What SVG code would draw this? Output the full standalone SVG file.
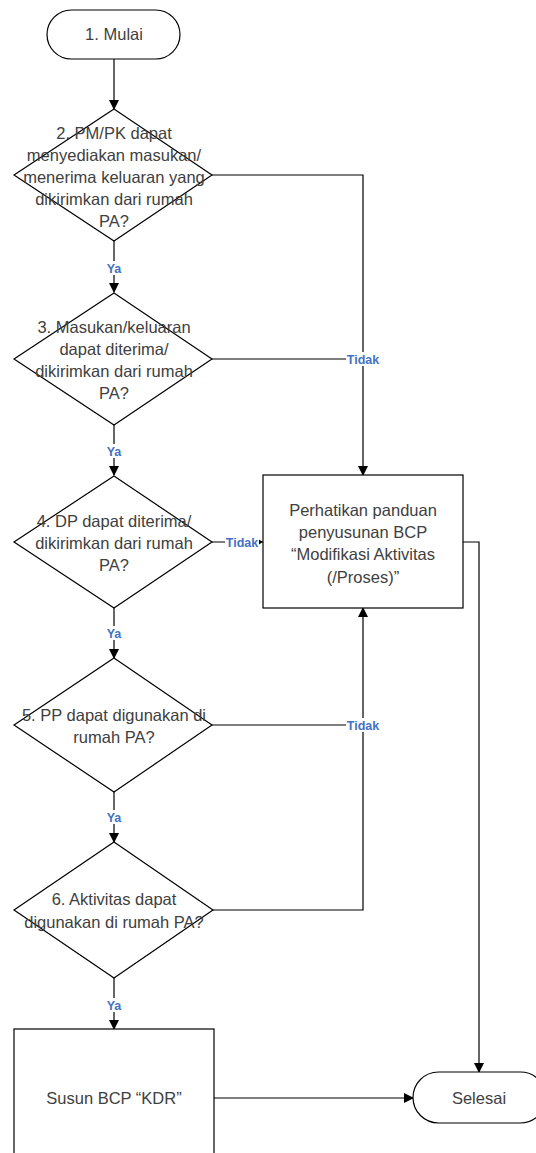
<svg xmlns="http://www.w3.org/2000/svg" width="536" height="1153" viewBox="0 0 536 1153">
<style>
.s{fill:#fff;stroke:#000;stroke-width:1.2}
.t{font-family:"Liberation Sans",Arial,sans-serif;font-size:16.5px;fill:#404040;text-anchor:middle}
.l{font-family:"Liberation Sans",Arial,sans-serif;font-size:12.5px;font-weight:bold;fill:#4472C4;text-anchor:middle}
.c{fill:none;stroke:#000;stroke-width:1.2}
</style>
<defs>
<marker id="a" markerWidth="10" markerHeight="10" refX="9" refY="5" orient="auto" markerUnits="userSpaceOnUse"><path d="M0,0 L10,5 L0,10 Z" fill="#000"/></marker>
<marker id="b" markerWidth="6" markerHeight="6" refX="5" refY="3" orient="auto" markerUnits="userSpaceOnUse"><path d="M0,0 L5,3 L0,6 Z" fill="#000"/></marker>
</defs>
<g id="connectors">
<path class="c" d="M114,59 V109" marker-end="url(#a)"/>
<path class="c" d="M114,241 V292" marker-end="url(#a)"/>
<path class="c" d="M114,425 V475" marker-end="url(#a)"/>
<path class="c" d="M114,608 V658" marker-end="url(#a)"/>
<path class="c" d="M114,792 V842" marker-end="url(#a)"/>
<path class="c" d="M114,978 V1029" marker-end="url(#a)"/>
<path class="c" d="M212,175 H363 V475" marker-end="url(#a)"/>
<path class="c" d="M212,359 H363"/>
<path class="c" d="M212,542 H263" marker-end="url(#b)"/>
<path class="c" d="M212,725 H363"/>
<path class="c" d="M213,910 H363 V608" marker-end="url(#a)"/>
<path class="c" d="M463,542 H479 V1072" marker-end="url(#a)"/>
<path class="c" d="M214,1098 H413" marker-end="url(#a)"/>
<g>
<rect x="103" y="261" width="22" height="14" fill="#fff"/><text class="l" x="114" y="273">Ya</text>
<rect x="103" y="444" width="22" height="14" fill="#fff"/><text class="l" x="114" y="456">Ya</text>
<rect x="103" y="626" width="22" height="14" fill="#fff"/><text class="l" x="114" y="638">Ya</text>
<rect x="103" y="810" width="22" height="14" fill="#fff"/><text class="l" x="114" y="822">Ya</text>
<rect x="103" y="998" width="22" height="14" fill="#fff"/><text class="l" x="114" y="1010">Ya</text>
<rect x="346" y="352" width="34" height="14" fill="#fff"/><text class="l" x="363" y="364">Tidak</text>
<rect x="225" y="535" width="34" height="14" fill="#fff"/><text class="l" x="242" y="547">Tidak</text>
<rect x="346" y="718" width="34" height="14" fill="#fff"/><text class="l" x="363" y="730">Tidak</text>
</g>
</g>
<g id="n1"><rect class="s" x="47" y="10" width="133" height="49" rx="24.5"/><text class="t" x="114" y="40">1. Mulai</text></g>
<g id="n2"><path class="s" d="M114,109 L212,175 L114,241 L14,175 Z"/>
<text class="t" x="114" y="139">2. PM/PK dapat</text><text class="t" x="114" y="161">menyediakan masukan/</text><text class="t" x="114" y="183">menerima keluaran yang</text><text class="t" x="114" y="205">dikirimkan dari rumah</text><text class="t" x="114" y="227">PA?</text></g>
<g id="n3"><path class="s" d="M114,293 L212,359 L114,425 L14,359 Z"/>
<text class="t" x="114" y="333">3. Masukan/keluaran</text><text class="t" x="114" y="355">dapat diterima/</text><text class="t" x="114" y="377">dikirimkan dari rumah</text><text class="t" x="114" y="399">PA?</text></g>
<g id="n4"><path class="s" d="M114,476 L212,542 L114,608 L14,542 Z"/>
<text class="t" x="114" y="527">4. DP dapat diterima/</text><text class="t" x="114" y="549">dikirimkan dari rumah</text><text class="t" x="114" y="571">PA?</text></g>
<g id="n5"><path class="s" d="M114,658 L212,725 L114,792 L14,725 Z"/>
<text class="t" x="114" y="721">5. PP dapat digunakan di</text><text class="t" x="114" y="743">rumah PA?</text></g>
<g id="n6"><path class="s" d="M114,842 L213,910 L114,978 L14,910 Z"/>
<text class="t" x="114" y="905">6. Aktivitas dapat</text><text class="t" x="114" y="928">digunakan di rumah PA?</text></g>
<g id="n7"><rect class="s" x="263" y="475" width="200" height="133"/>
<text class="t" x="363" y="516">Perhatikan panduan</text><text class="t" x="363" y="538">penyusunan BCP</text><text class="t" x="363" y="560">“Modifikasi Aktivitas</text><text class="t" x="363" y="583">(/Proses)”</text></g>
<g id="n8"><rect class="s" x="14" y="1029" width="200" height="140"/><text class="t" x="114" y="1104">Susun BCP “KDR”</text></g>
<g id="n9"><rect class="s" x="413" y="1072" width="133" height="51" rx="25.5"/><text class="t" x="479" y="1104">Selesai</text></g>
</svg>
